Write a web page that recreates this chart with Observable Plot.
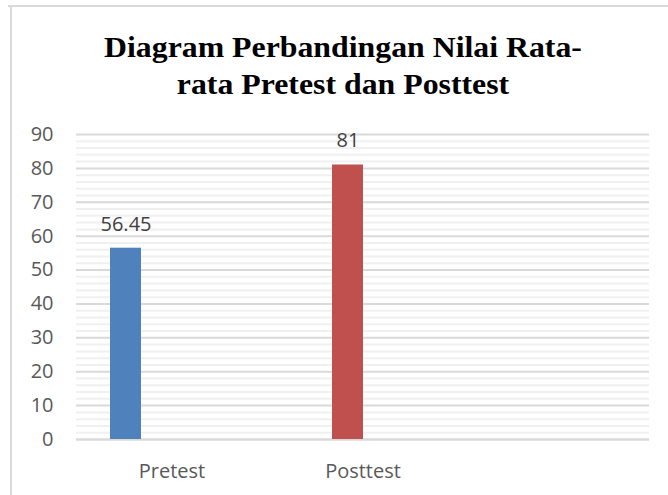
<!DOCTYPE html>
<html>
<head>
<meta charset="utf-8">
<script src="https://cdn.jsdelivr.net/npm/d3@7"></script>
<script src="https://cdn.jsdelivr.net/npm/@observablehq/plot@0.6"></script>
<style>
  html, body { margin: 0; padding: 0; background: #fff; }
  #wrap { position: relative; width: 668px; height: 495px; overflow: hidden; background: #fff; }
  #frameTop { position: absolute; left: 8px; top: 5px; width: 660px; height: 2px; background: #d9d9d9; }
  #frameLeft { position: absolute; left: 10px; top: 5px; width: 2px; height: 490px; background: #d9d9d9; }
  #title { position: absolute; left: 15px; width: 656px; top: 28px; text-align: center;
    font-family: "Liberation Serif", "Times New Roman", serif; font-weight: bold; font-size: 30px; line-height: 37px; color: #000;
    transform: scaleX(1.06); transform-origin: center top; }
  #chart { position: absolute; left: 0; top: 110px; }
</style>
</head>
<body>
<div id="wrap">
  <div id="frameTop"></div>
  <div id="frameLeft"></div>
  <div id="title">Diagram Perbandingan Nilai Rata-<br>rata Pretest dan Posttest</div>
  <div id="chart"></div>
</div>
<script>
const categories = ["Pretest", "Posttest", " "];
const seriesNames = ["Series 1", "Series 2", "Series 3", "Series 4"];
const values = [56.45, 81];
const valueLabels = ["56.45", "81"];
const barColors = ["#4f81bd", "#c0504d"];
const yTicks = [0, 10, 20, 30, 40, 50, 60, 70, 80, 90];

const rows = values.map((v, i) => ({
  category: categories[i], series: seriesNames[i], value: v, label: valueLabels[i], color: barColors[i]
}));
const minorTicks = d3.range(0, 91, 2).filter(v => v % 10 !== 0);

const font = "'Open Sans', Lato, sans-serif";
const plot = Plot.plot({
  width: 668,
  height: 385,
  marginLeft: 75,
  marginRight: 18,
  marginTop: 24,
  marginBottom: 56,
  style: { fontFamily: font, fontSize: "20px", color: "#595959", background: "transparent" },
  fx: { domain: categories, padding: 0, label: null, tickSize: 0, tickPadding: 24, axis: "bottom" },
  x: { domain: seriesNames, paddingInner: 0, paddingOuter: 1, axis: null },
  y: { domain: [0, 90], ticks: yTicks, label: null, tickSize: 0, tickPadding: 23 },
  marks: [
    Plot.ruleY(minorTicks, { stroke: "#f0f0f0", strokeWidth: 2 }),
    Plot.ruleY(yTicks, { stroke: "#d9d9d9", strokeWidth: 2 }),
    Plot.ruleY(categories, { fx: d => d, y: 0, stroke: "#d9d9d9", strokeWidth: 2 }),
    Plot.barY(rows, { fx: "category", x: "series", y: "value", fill: "color", inset: 0 }),
    Plot.text(rows, { fx: "category", x: "series", y: "value", text: "label", dy: -24,
      fill: "#404040", fontSize: 20, fontFamily: font })
  ]
});
document.getElementById("chart").appendChild(plot);
</script>
</body>
</html>
